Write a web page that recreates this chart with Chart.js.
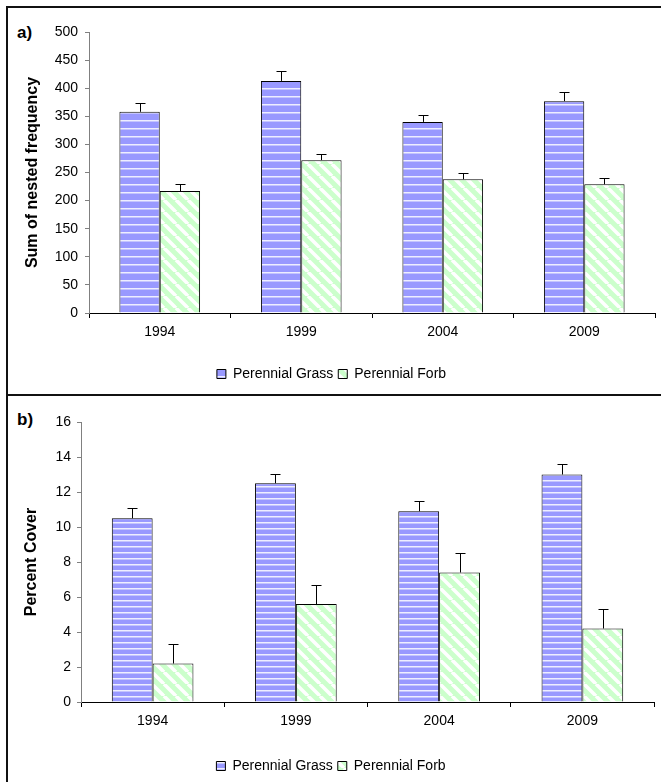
<!DOCTYPE html>
<html>
<head>
<meta charset="utf-8">
<script src="https://cdn.jsdelivr.net/npm/chart.js@4.4.1/dist/chart.umd.min.js"></script>
<style>
  html, body { margin: 0; padding: 0; background: #fff; width: 661px; height: 782px; overflow: hidden; }
  body { position: relative; font-family: "Liberation Sans", Arial, sans-serif; }
  #frame { position: absolute; left: 6px; top: 6px; width: 720px; height: 820px; border-top: 2px solid #111; border-left: 2px solid #111; }
  #sep { position: absolute; left: 6px; top: 394px; width: 720px; height: 2px; background: #111; }
  .panelLabel { position: absolute; font: bold 17px "Liberation Sans", Arial, sans-serif; line-height: 17px; color: #000; }
  canvas { position: absolute; }
</style>
</head>
<body>
<div id="frame"></div>
<div id="sep"></div>
<div class="panelLabel" style="left:17px; top:24px;">a)</div>
<div class="panelLabel" style="left:17px; top:411px;">b)</div>
<canvas id="freqChart" width="653" height="386" style="left:8px; top:8px;"></canvas>
<canvas id="coverChart" width="653" height="390" style="left:8px; top:396px;"></canvas>

<script>
// data
const years = ["1994", "1999", "2004", "2009"];
const seriesNames = ["Perennial Grass", "Perennial Forb"];

// a) sum of nested frequency
const grassFreq = [358, 413, 340, 377];
const grassFreqSE = [16, 17, 13, 16];
const forbFreq = [217, 272, 238, 229];
const forbFreqSE = [12, 11, 12, 12];

// b) percent cover
const grassCover = [10.5, 12.5, 10.9, 13.0];
const grassCoverSE = [0.6, 0.55, 0.6, 0.6];
const forbCover = [2.2, 5.6, 7.4, 4.2];
const forbCoverSE = [1.1, 1.1, 1.1, 1.1];

const FONT = "'Liberation Sans', Arial, sans-serif";

function stripePattern(period) {
  var c = document.createElement("canvas");
  c.width = 8;
  c.height = period;
  var g = c.getContext("2d");
  g.fillStyle = "#9999ff";
  g.fillRect(0, 0, 8, period);
  g.fillStyle = "#eeeeff";
  g.fillRect(0, 0, 8, 1);
  g.fillStyle = "#c4c4ff";
  g.fillRect(0, 1, 8, 1);
  return g.createPattern(c, "repeat");
}

function diagPattern() {
  var size = 12;
  var c = document.createElement("canvas");
  c.width = size;
  c.height = size;
  var g = c.getContext("2d");
  g.fillStyle = "#ccffcc";
  g.fillRect(0, 0, size, size);
  g.strokeStyle = "#ffffff";
  g.lineWidth = 3.5;
  [-size, 0, size].forEach(function (o) {
    g.beginPath();
    g.moveTo(o, 0);
    g.lineTo(o + size, size);
    g.stroke();
  });
  return g.createPattern(c, "repeat");
}

// upward error bars with a cap
const errorBars = {
  id: "errorBars",
  afterDatasetsDraw(chart) {
    const ctx = chart.ctx;
    const y = chart.scales.y;
    ctx.save();
    ctx.strokeStyle = "#000";
    ctx.lineWidth = 1;
    chart.data.datasets.forEach((ds, i) => {
      const meta = chart.getDatasetMeta(i);
      meta.data.forEach((bar, j) => {
        const x = Math.round(bar.x) + 0.5;
        const top = Math.round(y.getPixelForValue(ds.data[j] + ds.errors[j])) + 0.5;
        ctx.beginPath();
        ctx.moveTo(x, bar.y);
        ctx.lineTo(x, top);
        ctx.moveTo(x - 5, top);
        ctx.lineTo(x + 5, top);
        ctx.stroke();
      });
    });
    ctx.restore();
  }
};

function makeChart(id, opts) {
  return new Chart(document.getElementById(id), {
    type: "bar",
    data: {
      labels: years,
      datasets: [
        {
          label: seriesNames[0],
          data: opts.grass,
          errors: opts.grassSE,
          backgroundColor: stripePattern(opts.period),
          borderColor: "#000",
          borderWidth: 1,
          categoryPercentage: 0.57,
          barPercentage: 1.0
        },
        {
          label: seriesNames[1],
          data: opts.forb,
          errors: opts.forbSE,
          backgroundColor: diagPattern(),
          borderColor: "#000",
          borderWidth: 1,
          categoryPercentage: 0.57,
          barPercentage: 1.0
        }
      ]
    },
    options: {
      responsive: false,
      animation: false,
      devicePixelRatio: 1,
      layout: { padding: { left: 0, top: opts.padTop, right: opts.padRight, bottom: opts.padBottom } },
      plugins: {
        tooltip: { enabled: false },
        legend: {
          position: "bottom",
          labels: {
            color: "#000",
            boxWidth: 9,
            boxHeight: 9,
            padding: 5,
            font: { family: FONT, size: 14 }
          }
        }
      },
      scales: {
        x: {
          afterFit: (s) => { s.height = opts.xHeight; },
          grid: { drawOnChartArea: false, offset: true, tickLength: 5, color: "#000" },
          border: { color: "#000" },
          ticks: { color: "#000", padding: 6, font: { family: FONT, size: 14 } }
        },
        y: {
          min: 0,
          max: opts.max,
          afterFit: (s) => { s.width = opts.yWidth; },
          grid: { drawOnChartArea: false, tickLength: 4, color: "#808080" },
          border: { color: "#808080" },
          ticks: { stepSize: opts.step, color: "#000", padding: opts.tickPad, font: { family: FONT, size: 14 } },
          title: {
            display: true,
            text: opts.title,
            color: "#000",
            padding: { top: opts.titlePad, bottom: 0 },
            font: { family: FONT, size: 16, weight: "bold" }
          }
        }
      }
    },
    plugins: [errorBars]
  });
}

makeChart("freqChart", {
  grass: grassFreq, grassSE: grassFreqSE, forb: forbFreq, forbSE: forbFreqSE,
  period: 8, max: 500, step: 50, title: "Sum of nested frequency",
  padTop: 24, padRight: 6, padBottom: 3, xHeight: 49, yWidth: 81, tickPad: 7,
  titlePad: 15
});

makeChart("coverChart", {
  grass: grassCover, grassSE: grassCoverSE, forb: forbCover, forbSE: forbCoverSE,
  period: 6, max: 16, step: 2, title: "Percent Cover",
  padTop: 26, padRight: 7, padBottom: 3, xHeight: 52, yWidth: 73, tickPad: 6,
  titlePad: 14
});
</script>
</body>
</html>
